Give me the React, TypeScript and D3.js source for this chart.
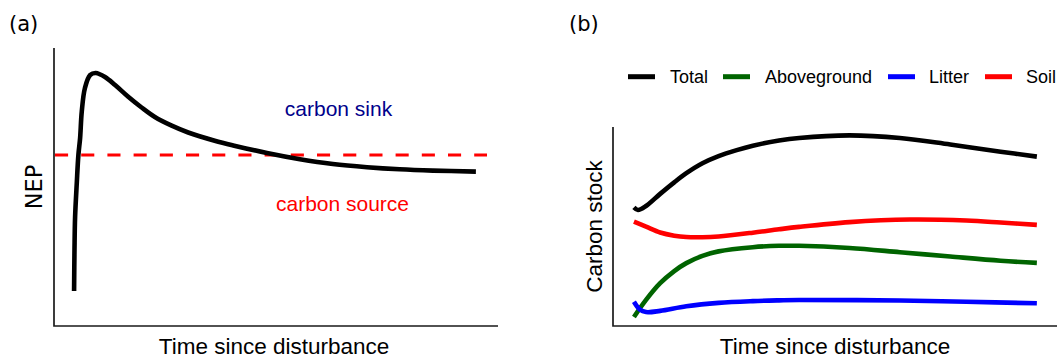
import React from 'react';
import * as d3 from 'd3';

// Panel (a): net ecosystem production after disturbance
const nepTime = [0, 0.1, 0.25, 0.67, 1.07, 1.5, 1.9, 2.7, 4, 5.4, 7.7, 10.2, 13.4, 16.8, 20.1, 24.3, 28.4, 35, 39.6, 48, 56.2, 64.4, 72.9, 81, 89.3, 100];
const nepValue = [-1.36, -0.95, -0.62, -0.28, 0, 0.17, 0.43, 0.67, 0.8, 0.82, 0.78, 0.7, 0.585, 0.475, 0.38, 0.293, 0.225, 0.143, 0.096, 0.02, -0.042, -0.09, -0.122, -0.143, -0.156, -0.166];

// Panel (b): carbon pools after disturbance
const totalTime = [0, 1, 3, 6.5, 10, 13, 17, 21, 25.5, 29.5, 36, 41, 53.5, 66, 78.5, 91, 100];
const totalValue = [59.6, 58.3, 60.3, 66.4, 72.2, 76.8, 81.8, 85.4, 88.4, 90.6, 93.2, 94.5, 95.8, 94.5, 91.2, 87.6, 85.1];

const aboveTime = [0, 3, 6.5, 10, 13, 17, 21, 29.5, 36, 41, 53.5, 66, 78.5, 91, 100];
const aboveValue = [4.5, 13.1, 21.5, 27.6, 31.6, 35.2, 37.5, 39.6, 40.3, 40.3, 39.2, 37.1, 34.9, 32.8, 31.7];

const litterTime = [0, 1.5, 3, 6.5, 13, 21, 29.5, 36, 41, 66, 82.5, 100];
const litterValue = [12.2, 8.2, 7.0, 7.6, 9.9, 11.6, 12.5, 12.9, 13.1, 12.8, 12.2, 11.4];

const soilTime = [0, 3, 6.5, 10, 13, 17, 21, 29.5, 36, 41, 53.5, 68.5, 82.5, 91, 100];
const soilValue = [52.4, 49.9, 47.0, 45.4, 44.7, 44.6, 45.0, 46.9, 48.6, 49.8, 52.2, 53.5, 53.0, 52.0, 50.8];

const seriesNames = ['Total', 'Aboveground', 'Litter', 'Soil'];
const seriesColors = ['#000000', '#006400', '#0000ff', '#ff0000'];
const seriesTimes = [totalTime, aboveTime, litterTime, soilTime];
const seriesValues = [totalValue, aboveValue, litterValue, soilValue];

const sans = '"Liberation Sans", Arial, Helvetica, sans-serif';
const dejavu = '"DejaVu Sans", sans-serif';

export default function App() {
  const W = 1059;
  const H = 358;

  // panel (a) scales
  const xA = d3.scaleLinear().domain([-5, 105.5]).range([54, 498]);
  const yA = d3.scaleLinear().domain([-1.71, 1.07]).range([326, 48]);
  const nepLine = d3
    .line<number>()
    .x((_, i) => xA(nepTime[i]))
    .y((d) => yA(d))
    .curve(d3.curveCatmullRom.alpha(0.5));

  // panel (b) scales
  const xB = d3.scaleLinear().domain([-5.2, 105]).range([613, 1057]);
  const yB = d3.scaleLinear().domain([0, 100]).range([326, 127]);

  const axisStroke = '#1a1a1a';
  const legendSeg = [628, 723, 888, 985];
  const legendText = [670, 765, 929, 1026];

  return (
    <svg
      width={W}
      height={H}
      style={{ position: 'absolute', left: 0, top: 0, background: '#fff' }}
    >
      {/* ---------- panel (a) ---------- */}
      <text x={9} y={31} fontFamily={dejavu} fontSize={21} fill="#000">
        (a)
      </text>
      <path
        d={`M${xA.range()[0]},${yA.range()[1]}V${yA.range()[0]}H${xA.range()[1]}`}
        fill="none"
        stroke={axisStroke}
        strokeWidth={1.7}
      />
      <line
        x1={55}
        x2={487}
        y1={yA(0)}
        y2={yA(0)}
        stroke="#ff0000"
        strokeWidth={3}
        strokeDasharray="13.1 13.1"
      />
      <path
        d={nepLine(nepValue) || ''}
        fill="none"
        stroke="#000"
        strokeWidth={4.6}
        strokeLinejoin="round"
      />
      <text x={338.5} y={116} textAnchor="middle" fontFamily={sans} fontSize={21} fill="#00008b">
        carbon sink
      </text>
      <text x={342.5} y={210.5} textAnchor="middle" fontFamily={sans} fontSize={21} fill="#ff0000">
        carbon source
      </text>
      <text
        transform={`translate(42,${(yA.range()[0] + yA.range()[1]) / 2}) rotate(-90)`}
        textAnchor="middle"
        fontFamily={dejavu}
        fontSize={22.5}
        fill="#000"
      >
        NEP
      </text>
      <text
        x={(xA.range()[0] + xA.range()[1]) / 2 - 2}
        y={353.5}
        textAnchor="middle"
        fontFamily={sans}
        fontSize={22.5}
        fill="#000"
      >
        Time since disturbance
      </text>

      {/* ---------- panel (b) ---------- */}
      <text x={569} y={31} fontFamily={dejavu} fontSize={21} fill="#000">
        (b)
      </text>
      <path
        d={`M${xB.range()[0]},${yB.range()[1]}V${yB.range()[0]}H${xB.range()[1]}`}
        fill="none"
        stroke={axisStroke}
        strokeWidth={1.7}
      />
      {seriesNames.map((name, k) => {
        const times = seriesTimes[k];
        const gen = d3
          .line<number>()
          .x((_, i) => xB(times[i]))
          .y((d) => yB(d))
          .curve(d3.curveCatmullRom.alpha(0.5));
        return (
          <path
            key={name}
            d={gen(seriesValues[k]) || ''}
            fill="none"
            stroke={seriesColors[k]}
            strokeWidth={4.6}
            strokeLinejoin="round"
          />
        );
      })}
      {/* legend */}
      {seriesNames.map((name, k) => (
        <g key={'lg-' + name}>
          <line
            x1={legendSeg[k]}
            x2={legendSeg[k] + 27}
            y1={76.7}
            y2={76.7}
            stroke={seriesColors[k]}
            strokeWidth={5}
          />
          <text x={legendText[k]} y={83} fontFamily={sans} fontSize={18} fill="#000">
            {name}
          </text>
        </g>
      ))}
      <text
        transform={`translate(601.5,226.5) rotate(-90)`}
        textAnchor="middle"
        fontFamily={sans}
        fontSize={22.5}
        fill="#000"
      >
        Carbon stock
      </text>
      <text
        x={(xB.range()[0] + xB.range()[1]) / 2}
        y={354}
        textAnchor="middle"
        fontFamily={sans}
        fontSize={22.5}
        fill="#000"
      >
        Time since disturbance
      </text>
    </svg>
  );
}
